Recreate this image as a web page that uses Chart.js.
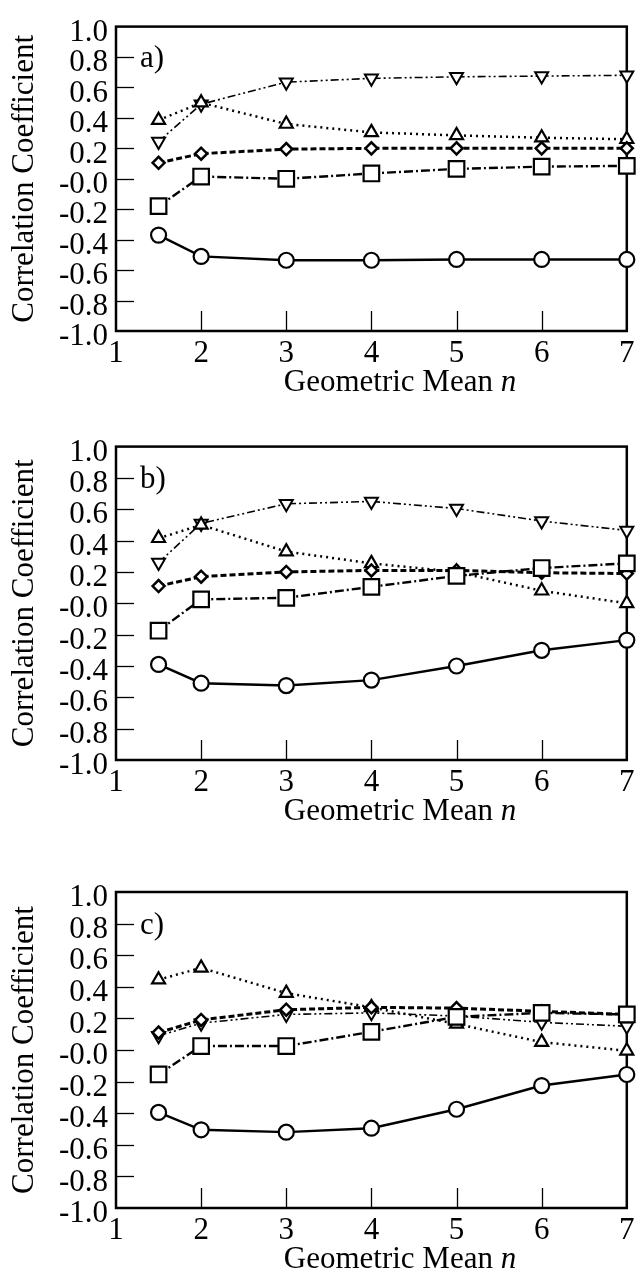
<!DOCTYPE html>
<html>
<head>
<meta charset="utf-8">
<script src="https://cdn.jsdelivr.net/npm/chart.js@4.4.0/dist/chart.umd.min.js"></script>
<style>
  body { margin: 0; background: #fff; }
  .panel { position: absolute; left: 0; }
</style>
</head>
<body>
<div class="panel" style="top:0px"><canvas id="chartA" width="640" height="420"></canvas></div>
<div class="panel" style="top:420px"><canvas id="chartB" width="640" height="420"></canvas></div>
<div class="panel" style="top:860px"><canvas id="chartC" width="640" height="421"></canvas></div>
<script>
// geometric mean n on the x axis
const nValues = [1.5, 2, 3, 4, 5, 6, 7];
const xTickLabels = ['1', '2', '3', '4', '5', '6', '7'];
const yTickLabels = ['1.0', '0.8', '0.6', '0.4', '0.2', '-0.0', '-0.2', '-0.4', '-0.6', '-0.8', '-1.0'];
const panelLabels = ['a)', 'b)', 'c)'];

// panel a
const circleA = [-0.37, -0.51, -0.535, -0.535, -0.53, -0.53, -0.53];
const squareA = [-0.18, 0.015, 0.0, 0.035, 0.065, 0.08, 0.085];
const diamondA = [0.105, 0.165, 0.195, 0.2, 0.2, 0.2, 0.2];
const triUpA = [0.385, 0.5, 0.36, 0.305, 0.285, 0.27, 0.26];
const triDownA = [0.245, 0.49, 0.635, 0.66, 0.67, 0.675, 0.68];

// panel b
const circleB = [-0.39, -0.51, -0.525, -0.49, -0.40, -0.30, -0.235];
const squareB = [-0.175, 0.025, 0.035, 0.105, 0.175, 0.225, 0.255];
const diamondB = [0.11, 0.17, 0.2, 0.21, 0.21, 0.195, 0.19];
const triUpB = [0.415, 0.5, 0.33, 0.255, 0.2, 0.08, 0.0];
const triDownB = [0.26, 0.51, 0.635, 0.65, 0.605, 0.525, 0.465];

// panel c
const circleC = [-0.395, -0.505, -0.52, -0.495, -0.375, -0.225, -0.155];
const squareC = [-0.155, 0.025, 0.025, 0.115, 0.21, 0.235, 0.225];
const diamondC = [0.11, 0.19, 0.255, 0.27, 0.265, 0.245, 0.225];
const triUpC = [0.445, 0.52, 0.36, 0.27, 0.165, 0.05, -0.005];
const triDownC = [0.09, 0.17, 0.225, 0.235, 0.215, 0.175, 0.15];

const fontFamily = "'Liberation Serif', 'Times New Roman', serif";
const plotHeight = 316;

function toPoints(values) {
    return values.map((v, i) => ({ x: nValues[i], y: v }));
}

function lineSet(values, pointStyle, radius, dash, width, markerWidth, rotation) {
    return {
        data: toPoints(values),
        borderColor: '#000',
        backgroundColor: '#fff',
        pointBackgroundColor: '#fff',
        pointBorderColor: '#000',
        pointBorderWidth: markerWidth,
        pointStyle: pointStyle,
        pointRadius: radius,
        pointRotation: rotation || 0,
        borderWidth: width,
        borderDash: dash,
        tension: 0,
        clip: false
    };
}

function framePlugin(label) {
    return {
        id: 'frame',
        beforeDatasetsDraw(chart) {
            const { ctx, chartArea: a, scales: { x, y } } = chart;
            ctx.save();
            ctx.strokeStyle = '#000';
            ctx.lineWidth = 1.3;
            y.ticks.forEach(t => {
                if (t.value <= -0.99 || t.value >= 0.99) return;
                const py = Math.round(y.getPixelForValue(t.value)) + 0.5;
                ctx.beginPath();
                ctx.moveTo(a.left, py);
                ctx.lineTo(a.left + 18, py);
                ctx.stroke();
            });
            x.ticks.forEach(t => {
                if (t.value <= 1 || t.value >= 7) return;
                const px = Math.round(x.getPixelForValue(t.value)) + 0.5;
                ctx.beginPath();
                ctx.moveTo(px, a.bottom);
                ctx.lineTo(px, a.bottom - 20);
                ctx.stroke();
            });
            ctx.lineWidth = 2.5;
            ctx.strokeRect(a.left, a.top, a.width, a.height);
            ctx.fillStyle = '#000';
            ctx.font = '31px ' + fontFamily;
            ctx.textBaseline = 'middle';
            ctx.textAlign = 'left';
            ctx.fillText(label, a.left + 24, y.getPixelForValue(0.8) + 2);
            ctx.restore();
        },
        afterDraw(chart) {
            const { ctx, chartArea: a } = chart;
            ctx.save();
            ctx.fillStyle = '#000';
            ctx.textBaseline = 'middle';
            ctx.textAlign = 'left';
            const plain = 'Geometric Mean ';
            ctx.font = '31px ' + fontFamily;
            const w1 = ctx.measureText(plain).width;
            ctx.font = 'italic 31px ' + fontFamily;
            const w2 = ctx.measureText('n').width;
            const start = 400 - (w1 + w2) / 2;
            const ty = a.bottom + 52;
            ctx.font = '31px ' + fontFamily;
            ctx.fillText(plain, start, ty);
            ctx.font = 'italic 31px ' + fontFamily;
            ctx.fillText('n', start + w1, ty);
            ctx.restore();
        }
    };
}

function makePanel(id, label, circle, square, diamond, triUp, triDown, padTop) {
    const canvas = document.getElementById(id);
    new Chart(canvas, {
        type: 'line',
        data: {
            datasets: [
                lineSet(circle, 'circle', 7.5, [], 2.4, 2.2),
                lineSet(square, 'rect', 11, [9, 3, 2, 3], 2.4, 2.2),
                lineSet(diamond, 'rectRot', 6, [6, 3], 3, 2.5),
                lineSet(triUp, 'triangle', 7.5, [2, 4], 2.5, 2.2),
                lineSet(triDown, 'triangle', 7.5, [8, 3, 2, 3, 2, 3], 1.6, 2, 180)
            ]
        },
        options: {
            responsive: false,
            animation: false,
            layout: { padding: { top: padTop, right: 9, left: 0, bottom: 0 } },
            plugins: { legend: { display: false }, tooltip: { enabled: false } },
            scales: {
                x: {
                    type: 'linear',
                    min: 1,
                    max: 7,
                    grid: { display: false, drawTicks: false },
                    border: { display: false },
                    ticks: {
                        stepSize: 1,
                        autoSkip: false,
                        maxRotation: 0,
                        padding: 4,
                        color: '#000',
                        font: { size: 31, family: fontFamily },
                        callback: v => xTickLabels[Math.round(v) - 1]
                    },
                    afterFit: s => { s.height = canvas.height - padTop - plotHeight; }
                },
                y: {
                    min: -1,
                    max: 1,
                    grid: { display: false, drawTicks: false },
                    border: { display: false },
                    ticks: {
                        stepSize: 0.2,
                        autoSkip: false,
                        padding: 8,
                        labelOffset: 6,
                        color: '#000',
                        font: { size: 31, family: fontFamily },
                        callback: v => yTickLabels[Math.round((1 - v) / 0.2)]
                    },
                    title: {
                        display: true,
                        text: 'Correlation Coefficient',
                        color: '#000',
                        font: { size: 31, family: fontFamily },
                        padding: { top: 6, bottom: 0 }
                    },
                    afterFit: s => { s.width = 116; }
                }
            }
        },
        plugins: [framePlugin(label)]
    });
}

makePanel('chartA', panelLabels[0], circleA, squareA, diamondA, triUpA, triDownA, 15);
makePanel('chartB', panelLabels[1], circleB, squareB, diamondB, triUpB, triDownB, 24);
makePanel('chartC', panelLabels[2], circleC, squareC, diamondC, triUpC, triDownC, 32);
</script>
</body>
</html>
